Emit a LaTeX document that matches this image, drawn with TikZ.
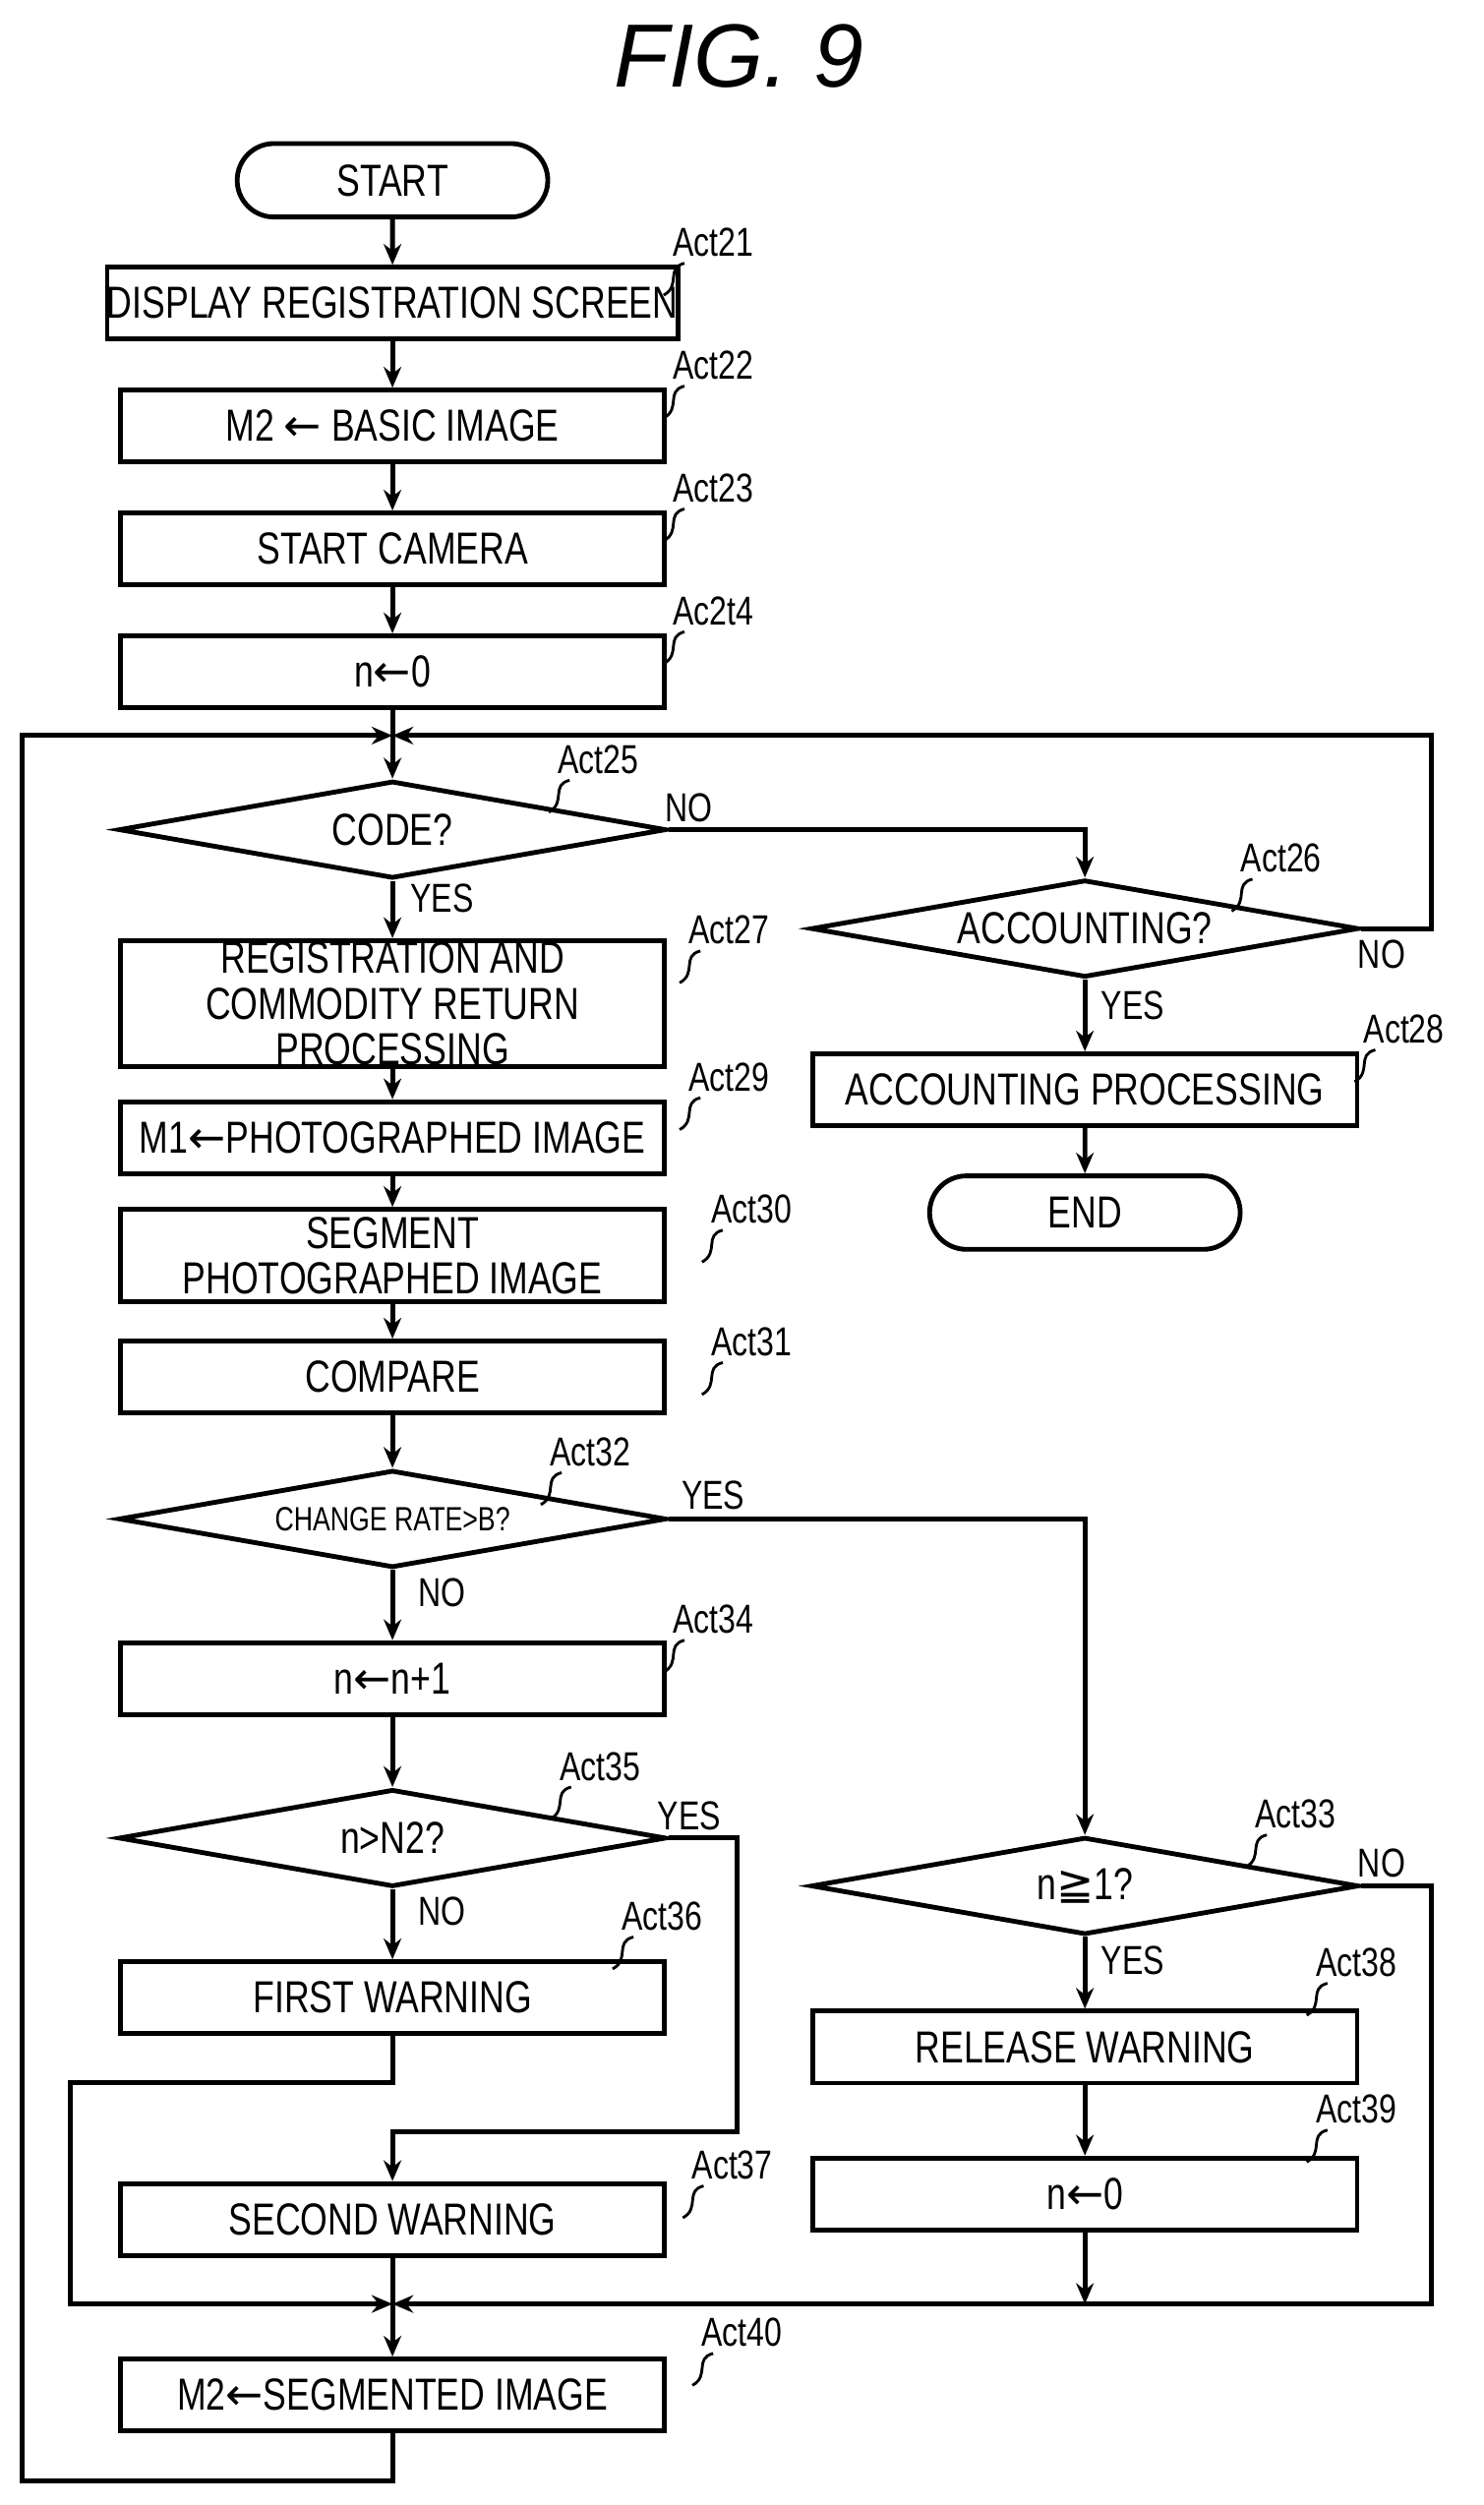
\documentclass[tikz,border=0pt]{standalone}
\usepackage{fontspec}
\setmainfont{Liberation Sans}[FakeStretch=0.78]
\newfontfamily\titlefont{Liberation Sans}
\newfontfamily\symfont{DejaVu Sans}
\usetikzlibrary{shapes.geometric,shapes.misc,arrows.meta}
\begin{document}
\begin{tikzpicture}[x=0.01cm,y=-0.01cm,line width=0.85pt,
 box/.style={draw,minimum width=3.41cm,minimum height=0.45cm,inner sep=0,align=center,font=\fontsize{8}{8.2}\selectfont},
 dia/.style={draw,diamond,aspect=5.6,minimum width=3.43cm,minimum height=0.61cm,inner sep=0,font=\fontsize{8}{9}\selectfont},
 term/.style={draw,rounded rectangle,minimum width=2.18cm,minimum height=0.46cm,font=\fontsize{8}{9}\selectfont},
 lbl/.style={font=\fontsize{7.2}{8}\selectfont},
 arr/.style={-{Stealth[length=0.13cm,width=0.11cm]}}]
\useasboundingbox (0,0) rectangle (930,1570);
\node[font=\titlefont\itshape\fontsize{16}{18}\selectfont] (title) at (463,35) {FIG. 9};
\node[term] (start) at (246,113) {START};
\node[box] (a21) at (246,190) {DISPLAY REGISTRATION SCREEN};
\node[box] (a22) at (246,267) {M2 {\symfont←} BASIC IMAGE};
\node[box] (a23) at (246,344) {START CAMERA};
\node[box] (a24) at (246,421) {n{\symfont←}0};
\coordinate (m1) at (246,461);
\node[dia] (a25) at (246,520) {CODE?};
\node[dia] (a26) at (680,582) {ACCOUNTING?};
\node[box] (a28) at (680,683) {ACCOUNTING PROCESSING};
\node[term] (end) at (680,760) {END};
\node[box,minimum height=0.79cm] (a27) at (246,629) {REGISTRATION AND\\COMMODITY RETURN\\PROCESSING};
\node[box] (a29) at (246,713) {M1{\symfont←}PHOTOGRAPHED IMAGE};
\node[box,minimum height=0.58cm] (a30) at (246,787) {SEGMENT\\PHOTOGRAPHED IMAGE};
\node[box] (a31) at (246,863) {COMPARE};
\node[dia,font=\fontsize{6}{7}\selectfont] (a32) at (246,952) {CHANGE RATE>B?};
\node[box] (a34) at (246,1052) {n{\symfont←}n+1};
\node[dia] (a35) at (246,1152) {n>N2?};
\node[box] (a36) at (246,1252) {FIRST WARNING};
\node[box] (a37) at (246,1391) {SECOND WARNING};
\node[dia] (a33) at (680,1182) {n{\symfont≧}1?};
\node[box] (a38) at (680,1283) {RELEASE WARNING};
\node[box] (a39) at (680,1375) {n{\symfont←}0};
\coordinate (m2) at (246,1444);
\node[box] (a40) at (246,1501) {M2{\symfont←}SEGMENTED IMAGE};

\draw[arr] (start) -- (a21);
\draw[arr] (a21) -- (a22);
\draw[arr] (a22) -- (a23);
\draw[arr] (a23) -- (a24);
\draw (a24) -- (m1);
\draw[arr] (m1) -- (a25);
\draw[arr] (a25.east) -| (a26.north);
\draw[arr] (a26.east) -- (897,582) -- (897,461) -- (m1);
\draw[arr] (a26) -- (a28);
\draw[arr] (a28) -- (end);
\draw[arr] (a25) -- (a27);
\draw[arr] (a27) -- (a29);
\draw[arr] (a29) -- (a30);
\draw[arr] (a30) -- (a31);
\draw[arr] (a31) -- (a32);
\draw[arr] (a32.east) -| (a33.north);
\draw[arr] (a32) -- (a34);
\draw[arr] (a34) -- (a35);
\draw[arr] (a35) -- (a36);
\draw[arr] (a35.east) -- (462,1152) -- (462,1336) -- (246,1336) -- (a37);
\draw[arr] (a36) -- (246,1305) -- (44,1305) -- (44,1444) -- (m2);
\draw (a37) -- (m2);
\draw[arr] (a33) -- (a38);
\draw[arr] (a38) -- (a39);
\draw[arr] (a33.east) -- (897,1182) -- (897,1444) -- (m2);
\draw[arr] (a39) -- (680,1444);
\draw[arr] (m2) -- (a40);
\draw[arr] (a40) -- (246,1555) -- (14,1555) -- (14,461) -- (m1);

\node[lbl] (n25) at (432,506) {NO};
\node[lbl] (y25) at (277,563) {YES};
\node[lbl] (n26) at (866,598) {NO};
\node[lbl] (y26) at (710,630) {YES};
\node[lbl] (y32) at (447,937) {YES};
\node[lbl] (n32) at (277,998) {NO};
\node[lbl] (y35) at (432,1138) {YES};
\node[lbl] (n35) at (277,1198) {NO};
\node[lbl] (n33) at (866,1168) {NO};
\node[lbl] (y33) at (710,1229) {YES};

\foreach \t/\x/\y in {Act21/447/152,Act22/447/229,Act23/447/306,Ac2t4/447/383,Act25/375/476,Act26/803/538,Act27/457/583,Act28/880/645,Act29/457/675,Act30/471/758,Act31/471/841,Act32/370/910,Act34/447/1015,Act35/376/1107,Act36/415/1201,Act33/812/1137,Act38/850/1230,Act39/850/1322,Act37/459/1357,Act40/465/1462}{
 \node[lbl] (lab-\t) at (\x,\y) {\t};
 \draw[line width=0.5pt] (\x-18,\y+13) .. controls (\x-30,\y+16) and (\x-20,\y+27) .. (\x-31,\y+33);
}
\end{tikzpicture}
\end{document}
